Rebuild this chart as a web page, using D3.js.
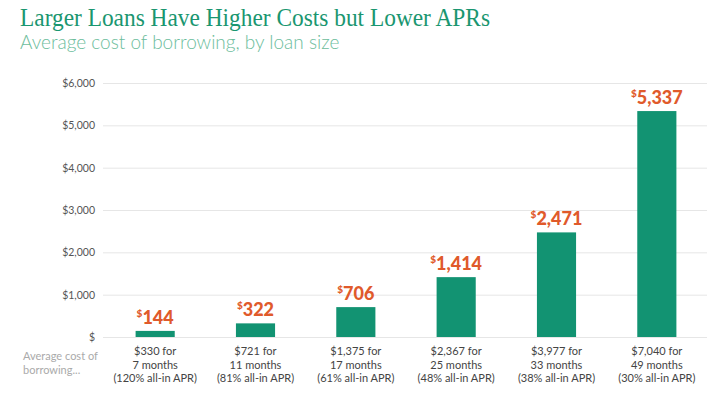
<!DOCTYPE html>
<html><head><meta charset="utf-8">
<script src="https://cdn.jsdelivr.net/npm/d3@7"></script>
<style>body{margin:0;background:#fff;} svg{display:block;}</style>
</head><body>
<svg id="c" width="720" height="395"></svg>
<script>
const amounts = ["$330 for", "$721 for", "$1,375 for", "$2,367 for", "$3,977 for", "$7,040 for"];
const terms = ["7 months", "11 months", "17 months", "25 months", "33 months", "49 months"];
const aprs = ["(120% all-in APR)", "(81% all-in APR)", "(61% all-in APR)", "(48% all-in APR)", "(38% all-in APR)", "(30% all-in APR)"];
const costs = [144, 322, 706, 1414, 2471, 5337];
const yTicks = [0, 1000, 2000, 3000, 4000, 5000, 6000];
const title = "Larger Loans Have Higher Costs but Lower APRs";
const subtitle = "Average cost of borrowing, by loan size";

const svg = d3.select("#c");
const font = "Lato, 'Open Sans', sans-serif";
const green = "#129372", orange = "#e05a2b";

const x = d3.scaleBand().domain(d3.range(costs.length)).range([105, 707]).paddingInner(0.61).paddingOuter(0.305);
const y = d3.scaleLinear().domain([0, 6000]).range([337, 83]);

const t = svg.append("text").attr("x", 20).attr("y", 26).attr("font-family", "'Liberation Serif', serif").attr("font-size", 25)
  .attr("fill", "#1a9670").text(title);
const tw = t.node().getComputedTextLength();
if (Math.abs(tw - 470) > 4) t.attr("textLength", 470).attr("lengthAdjust", "spacingAndGlyphs");
svg.append("text").attr("x", 20).attr("y", 49).attr("font-family", font).attr("font-size", 19)
  .attr("font-weight", 300).attr("fill", "#6cbd9c").text(subtitle);

// grid + y axis
const fmt = v => v === 0 ? "$" : "$" + d3.format(",")(v);
const yAxis = d3.axisLeft(y).tickValues(yTicks).tickFormat(fmt).tickSize(-(707 - 103)).tickPadding(8);
const ga = svg.append("g").attr("transform", "translate(103,0)").call(yAxis);
ga.select(".domain").remove();
ga.selectAll(".tick line").attr("stroke", "#e6e6e6");
ga.selectAll(".tick text").attr("font-family", font).attr("font-size", 10.5).attr("fill", "#555");

// bars
svg.append("g").selectAll("rect").data(costs).join("rect")
  .attr("x", (d, i) => x(i)).attr("width", x.bandwidth())
  .attr("y", d => y(d)).attr("height", d => y(0) - y(d)).attr("fill", green);

// value labels
const lab = svg.append("g").selectAll("text").data(costs).join("text")
  .attr("x", (d, i) => x(i) + x.bandwidth() / 2).attr("y", d => y(d) - 7)
  .attr("text-anchor", "middle").attr("font-family", font).attr("font-weight", 900).attr("fill", orange);
lab.append("tspan").attr("font-size", 10).attr("dy", -7).text("$");
lab.append("tspan").attr("font-size", 18).attr("dy", 7).text(d => d3.format(",")(d));

// category labels
const cat = svg.append("g").selectAll("text").data(costs).join("text")
  .attr("x", (d, i) => x(i) + x.bandwidth() / 2).attr("y", 355)
  .attr("text-anchor", "middle").attr("font-family", font).attr("font-size", 11).attr("fill", "#444");
cat.append("tspan").attr("x", (d, i) => x(i) + x.bandwidth() / 2).attr("dy", 0).text((d, i) => amounts[i]);
cat.append("tspan").attr("x", (d, i) => x(i) + x.bandwidth() / 2).attr("dy", 13.5).text((d, i) => terms[i]);
cat.append("tspan").attr("x", (d, i) => x(i) + x.bandwidth() / 2).attr("dy", 13.5).text((d, i) => aprs[i]);

svg.append("text").attr("x", 23).attr("y", 360).attr("font-family", font).attr("font-size", 11).attr("fill", "#aaa")
  .selectAll("tspan").data(["Average cost of", "borrowing..."]).join("tspan")
  .attr("x", 23).attr("dy", (d, i) => i ? 14 : 0).text(d => d);
</script>
</body></html>
